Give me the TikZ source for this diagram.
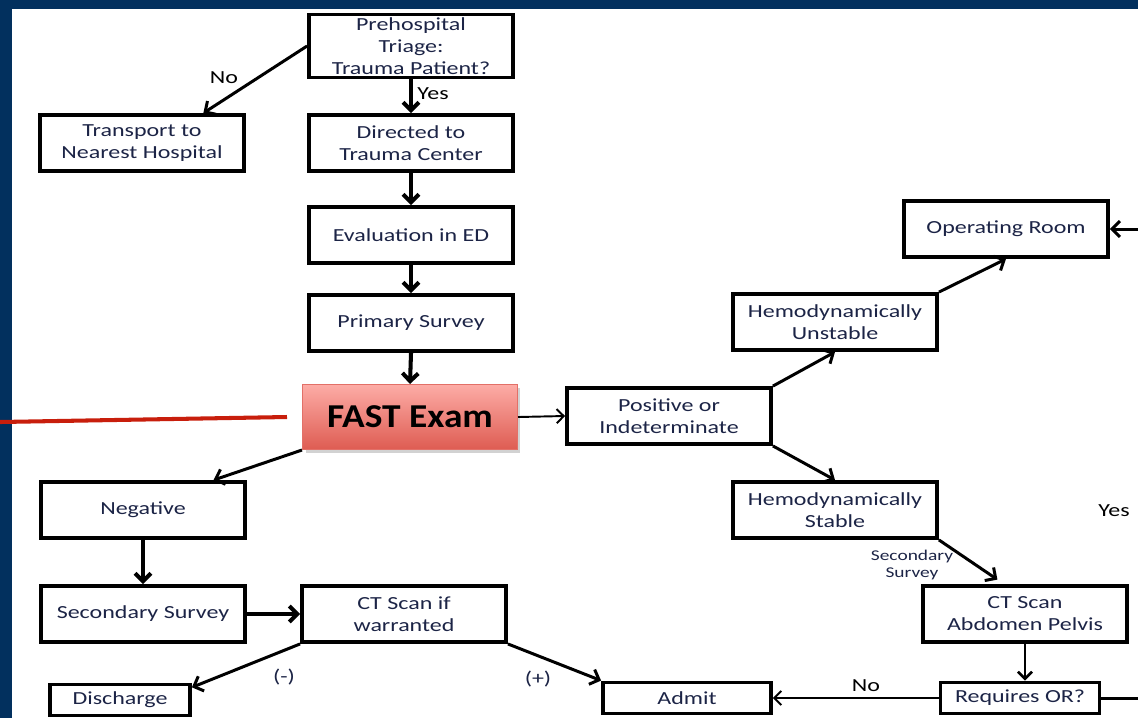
\documentclass[tikz,border=0pt]{standalone}
\usepackage{fontspec}
\setmainfont{Carlito}[FakeStretch=1.3]
\newfontfamily\fastfont{Carlito}[FakeStretch=1.12]
\usetikzlibrary{shapes,arrows,arrows.meta,positioning,shadows}
\definecolor{navy}{RGB}{2,48,94}
\definecolor{txt}{RGB}{28,36,70}
\definecolor{fasttop}{RGB}{253,172,166}
\definecolor{fastbot}{RGB}{222,92,82}
\definecolor{fastline}{RGB}{226,112,104}
\definecolor{pointer}{RGB}{200,30,12}
\tikzstyle{block} = [rectangle,line width=2.2pt,draw,fill=white,minimum width=4.08cm,
  minimum height=1.12cm,inner sep=0pt,align=center,text=txt,
  font=\fontsize{10.5}{12.5}\selectfont]
\tikzstyle{small} = [block,minimum height=0.62cm]
\tikzstyle{fastblock} = [rectangle,draw=fastline,line width=0.6pt,top color=fasttop,
  bottom color=fastbot,minimum width=4.3cm,minimum height=1.3cm,
  drop shadow={opacity=0.35,shadow xshift=0.06cm,shadow yshift=-0.06cm},
  font=\fastfont\bfseries\fontsize{19}{21}\selectfont]
\tikzstyle{arr} = [-{Straight Barb[length=4.5pt,width=9pt]},line width=1.7pt]
\tikzstyle{downarr} = [arr,line width=2.3pt]
\tikzstyle{thinarr} = [-{Straight Barb[length=4pt,width=8pt]},line width=1.1pt]
\tikzstyle{lbl} = [font=\fontsize{10.5}{12.5}\selectfont]
\tikzstyle{note} = [text=txt,align=center,font=\fontsize{8.5}{10}\selectfont]

\begin{document}
\begin{tikzpicture}[x=0.02cm,y=-0.02cm]
\useasboundingbox (0,0) rectangle (1138,718);
\fill[navy] (0,0) rectangle (1138,718);
\fill[white] (12,9) rectangle (1138,718);

\node [block,minimum height=1.26cm] (triage) at (411,46) {Prehospital\\Triage:\\Trauma Patient?};
\node [block] (transport) at (142,143) {Transport to\\Nearest Hospital};
\node [block] (directed) at (411,143) {Directed to\\Trauma Center};
\node [block] (evaluation) at (411,235) {Evaluation in ED};
\node [block] (primary) at (411,323) {Primary Survey};
\node [fastblock] (fast) at (410,417) {FAST Exam};
\node [block] (positive) at (669,416) {Positive or\\Indeterminate};
\node [block] (unstable) at (835,322) {Hemodynamically\\Unstable};
\node [block] (operating) at (1006,229) {Operating Room};
\node [block] (stable) at (835,510) {Hemodynamically\\Stable};
\node [block] (negative) at (143,510) {Negative};
\node [block] (secsurvey) at (143,614) {Secondary Survey};
\node [block] (ctif) at (404,614) {CT Scan if\\warranted};
\node [block] (ctabd) at (1025,614) {CT Scan\\Abdomen Pelvis};
\node [small,minimum width=2.8cm] (discharge) at (120,700) {Discharge};
\node [small,minimum width=3.36cm] (admit) at (687,698) {Admit};
\node [small,minimum width=3.18cm] (reqor) at (1020,698) {Requires OR?};

\coordinate (ptr) at (0,422);
\coordinate (edge) at (1142,460);
\draw[pointer,line width=2.3pt] (ptr) -- ([xshift=-0.3cm]fast.west);

\draw[arr] (triage.west) -- (transport.26);
\draw[downarr] (triage.south) -- (directed.north);
\draw[downarr] (directed.south) -- (evaluation.north);
\draw[downarr] (evaluation.south) -- (primary.north);
\draw[downarr] (primary.south) -- (fast.north);
\draw[thinarr] (fast.east) -- (positive.west);
\draw[arr] (positive.north east) -- (unstable.south);
\draw[arr] (unstable.north east) -- (operating.south);
\draw[arr] (positive.south east) -- (stable.north);
\draw[arr,shorten >=0.16cm] (stable.south east) -- (ctabd.125);
\draw[thinarr,line width=1.5pt] (ctabd.south) -- (ctabd.south |- reqor.north);
\draw[thinarr] (reqor.west) -- (admit.east);
\draw[arr] (reqor.east) -| (edge) |- (operating.east);
\draw[arr] (fast.south west) -- (negative.23);
\draw[downarr] (negative.south) -- (secsurvey.north);
\draw[downarr] (secsurvey.east) -- (ctif.west);
\draw[arr] (ctif.south west) -- (discharge.10);
\draw[arr] (ctif.south east) -- (admit.north west);

\node [lbl] (no1) at (224,78) {No};
\node [lbl] (yes1) at (433,94) {Yes};
\node [note] (secnote) at (912,565) {Secondary\\Survey};
\node [lbl] (yes2) at (1114,511) {Yes};
\node [lbl] (no2) at (866,686) {No};
\node [lbl,text=txt] (minus) at (284,677) {(-)};
\node [lbl,text=txt] (plus) at (538,679) {(+)};
\end{tikzpicture}
\end{document}
